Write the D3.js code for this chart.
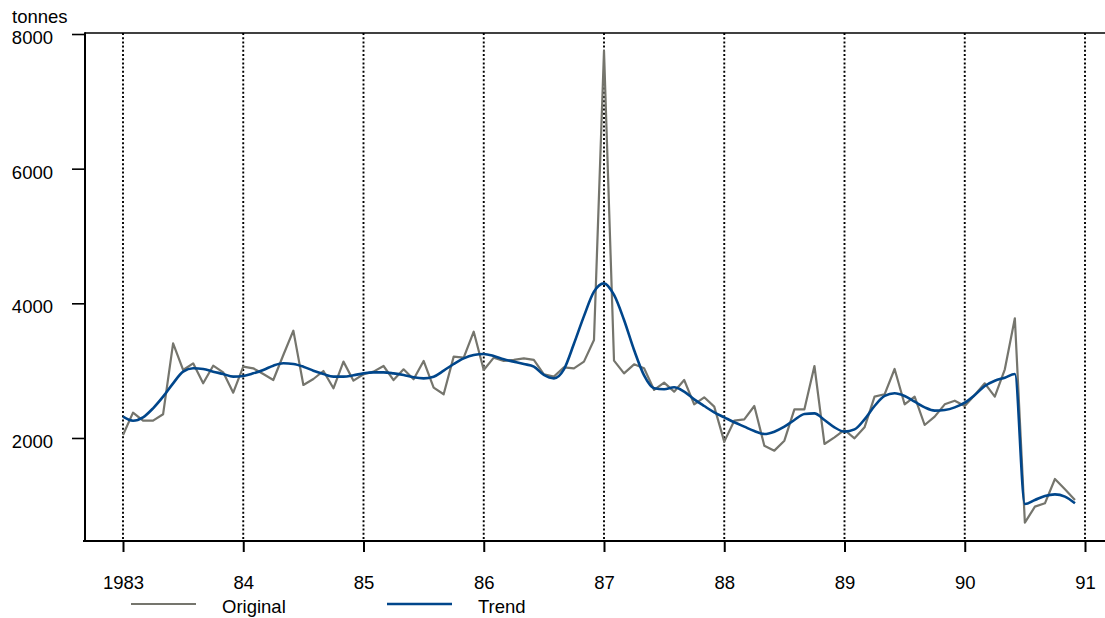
<!DOCTYPE html>
<html>
<head>
<meta charset="utf-8">
<script src="https://cdn.jsdelivr.net/npm/d3@7"></script>
<style>
  html, body { margin: 0; padding: 0; background: #fff; }
  svg { display: block; font-family: "Liberation Sans", Arial, Helvetica, sans-serif; }
</style>
</head>
<body>
<svg id="chart" width="1105" height="618"></svg>
<script>
// Monthly series, January 1983 to December 1990 (tonnes)
const startYear = 1983;
const original = [
  2045, 2376, 2257, 2257, 2352, 3406, 3010, 3109, 2812, 3074, 2975, 2673,
  3059, 3035, 2950, 2861, 3233, 3594, 2787, 2876, 2995, 2738, 3134, 2851,
  2946, 2985, 3069, 2861, 3020, 2871, 3144, 2747, 2649, 3208, 3193, 3579,
  3010, 3193, 3144, 3159, 3183, 3159, 2946, 2911, 3050, 3035, 3134, 3456,
  7750, 3148, 2960, 3094, 3035, 2713, 2822, 2688, 2861, 2500, 2604, 2465,
  1946, 2257, 2277, 2475, 1886, 1812, 1960, 2426, 2426, 3069, 1911, 2010,
  2119, 1995, 2158, 2614, 2649, 3025, 2500, 2614, 2193, 2317, 2500, 2554,
  2475, 2639, 2812, 2614, 3020, 3778, 742, 980, 1030, 1391, 1238, 1079
];
const trend = [
  2317, 2257, 2307, 2441, 2614, 2812, 2985, 3035, 3025, 2985, 2950, 2911,
  2921, 2960, 3010, 3074, 3109, 3099, 3059, 3000, 2950, 2911, 2911, 2931,
  2960, 2975, 2975, 2960, 2936, 2901, 2886, 2911, 3000, 3099, 3183, 3233,
  3248, 3218, 3168, 3134, 3099, 3059, 2936, 2886, 3020, 3400, 3810, 4173,
  4297, 4124, 3753, 3307, 2930, 2738, 2723, 2753, 2688, 2574, 2475, 2381,
  2307, 2233, 2168, 2104, 2059, 2094, 2168, 2267, 2356, 2366, 2267, 2158,
  2094, 2127, 2277, 2475, 2624, 2664, 2624, 2539, 2455, 2406, 2416, 2455,
  2525, 2639, 2772, 2851, 2896, 2950, 1020, 1079, 1139, 1163, 1129, 1030
];
const yTicks = [2000, 4000, 6000, 8000];
const xTicks = [1983, 1984, 1985, 1986, 1987, 1988, 1989, 1990, 1991];
const xTickLabels = ["1983", "84", "85", "86", "87", "88", "89", "90", "91"];
const legendItems = [
  { label: "Original", color: "#75756d", width: 2.2 },
  { label: "Trend", color: "#00468b", width: 2.6 }
];

const W = 1105, H = 618;
const plot = { left: 85, top: 33, bottom: 541 };
const fontSize = 18.5;
const fontFamily = "Liberation Sans, Arial, sans-serif";

const svg = d3.select("#chart");

const x = d3.scaleLinear().domain([1983, 1991]).range([123, 1085]);
const y = d3.scaleLinear().domain([470, 8015]).range([plot.bottom, plot.top]);

const toPoints = vals => vals.map((v, i) => ({ t: startYear + i / 12, v }));

// dotted year gridlines
svg.append("g").selectAll("line").data(xTicks).join("line")
  .attr("x1", d => x(d)).attr("x2", d => x(d))
  .attr("y1", plot.top).attr("y2", plot.bottom)
  .attr("stroke", "#000").attr("stroke-width", 1.9)
  .attr("stroke-dasharray", "2,2.2");

// frame: top, left and bottom lines
svg.append("line").attr("x1", plot.left).attr("x2", W).attr("y1", plot.top).attr("y2", plot.top)
  .attr("stroke", "#000").attr("stroke-width", 1.5);
svg.append("line").attr("x1", plot.left).attr("x2", plot.left).attr("y1", plot.top - 0.75).attr("y2", plot.bottom)
  .attr("stroke", "#000").attr("stroke-width", 2);
svg.append("line").attr("x1", plot.left - 2).attr("x2", W).attr("y1", plot.bottom).attr("y2", plot.bottom)
  .attr("stroke", "#000").attr("stroke-width", 2);

// y axis
const yAxis = svg.append("g").attr("transform", `translate(${plot.left},0)`)
  .call(d3.axisLeft(y).tickValues(yTicks).tickSize(13).tickPadding(19).tickFormat(d3.format("d")));
yAxis.select(".domain").remove();
yAxis.selectAll(".tick line").attr("stroke-width", 1.6);
yAxis.selectAll(".tick text").attr("font-size", fontSize).attr("fill", "#000")
  .attr("font-family", fontFamily).attr("dy", "9.5px");

// x axis
const xAxis = svg.append("g").attr("transform", `translate(0,${plot.bottom})`)
  .call(d3.axisBottom(x).tickValues(xTicks).tickSize(11)
    .tickFormat((d, i) => xTickLabels[i]));
xAxis.select(".domain").remove();
xAxis.selectAll(".tick line").attr("stroke-width", 2);
xAxis.selectAll(".tick text").attr("font-size", fontSize).attr("fill", "#000")
  .attr("font-family", fontFamily).attr("y", 48).attr("dy", null);

// unit label
svg.append("text").attr("x", 12).attr("y", 23).attr("font-size", fontSize)
  .attr("font-family", fontFamily).text("tonnes");

// series lines
const line = d3.line().x(d => x(d.t)).y(d => y(d.v));
svg.append("path").datum(toPoints(original)).attr("d", line)
  .attr("fill", "none").attr("stroke", legendItems[0].color).attr("stroke-width", legendItems[0].width)
  .attr("stroke-linejoin", "round");
svg.append("path").datum(toPoints(trend)).attr("d", line.curve(d3.curveMonotoneX))
  .attr("fill", "none").attr("stroke", legendItems[1].color).attr("stroke-width", legendItems[1].width)
  .attr("stroke-linejoin", "round");

// legend
const legendX = [131, 387];
const lg = svg.append("g");
legendItems.forEach((it, i) => {
  lg.append("line").attr("x1", legendX[i]).attr("x2", legendX[i] + 65)
    .attr("y1", 604).attr("y2", 604)
    .attr("stroke", it.color).attr("stroke-width", it.width);
  lg.append("text").attr("x", legendX[i] + 91).attr("y", 613)
    .attr("font-size", fontSize).attr("font-family", fontFamily).text(it.label);
});
</script>
</body>
</html>
